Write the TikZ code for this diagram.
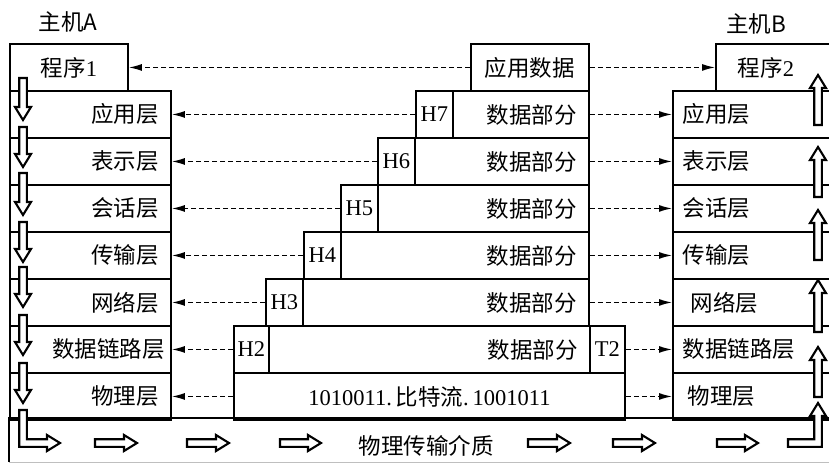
\documentclass[tikz,border=0pt]{standalone}
\usepackage{fontspec}
\setmainfont{Liberation Serif}
\newfontfamily\cjk{Noto Sans CJK SC}
\usetikzlibrary{arrows.meta}
\newcommand\zh[1]{{\cjk #1}}
\newcommand\dnarr[3]{\draw[hol] ({#1-3.8},#2) -- ({#1+3.8},#2) -- ({#1+3.8},{#3-13}) -- ({#1+8},{#3-13}) -- (#1,#3) -- ({#1-8},{#3-13}) -- ({#1-3.8},{#3-13}) -- cycle;}
\newcommand\uparr[3]{\draw[hol] ({#1-3.8},#2) -- ({#1+3.8},#2) -- ({#1+3.8},{#3+13}) -- ({#1+8},{#3+13}) -- (#1,#3) -- ({#1-8},{#3+13}) -- ({#1-3.8},{#3+13}) -- cycle;}
\newcommand\rtarr[3]{\draw[hol] (#1,{#3-3.8}) -- ({#2-13},{#3-3.8}) -- ({#2-13},{#3-8}) -- (#2,#3) -- ({#2-13},{#3+8}) -- ({#2-13},{#3+3.8}) -- (#1,{#3+3.8}) -- cycle;}
\begin{document}
\begin{tikzpicture}[x=1pt,y=-1pt,
  every node/.style={font=\fontsize{22.5}{26}\selectfont, inner sep=0pt},
  blk/.style={draw, line width=1.9pt, anchor=north west, minimum height=47pt},
  aly/.style={blk, minimum width=161pt, text width=137pt, inner xsep=12pt, align=right},
  bly/.style={blk, minimum width=188pt, text width=168pt, inner xsep=10pt, align=left},
  hd/.style={blk, minimum width=37pt},
  dt/.style={blk, inner xsep=12pt, align=right},
  dsh/.style={dash pattern=on 5pt off 3pt, line width=1.3pt, -{Latex[length=13pt,width=7pt]}},
  hol/.style={draw, line width=2.1pt, fill=white, line join=miter}]
\useasboundingbox (0,0) rectangle (829,464);
\clip (0,0) rectangle (829,464);

% titles
\node (ta) at (68,22) {\zh{主机A}};
\node (tb) at (756,24) {\zh{主机B}};

% host A
\node[blk, minimum width=118pt] (p1) at (9,43) {\zh{程序}1};
\node[aly] (a1) at (9,90)  {\zh{应用层}};
\node[aly] (a2) at (9,137) {\zh{表示层}};
\node[aly] (a3) at (9,184) {\zh{会话层}};
\node[aly] (a4) at (9,231) {\zh{传输层}};
\node[aly] (a5) at (9,278) {\zh{网络层}};
\node[aly, inner xsep=6pt, text width=149pt] (a6) at (9,325) {\zh{数据链路层}};
\node[aly] (a7) at (9,372) {\zh{物理层}};

% host B
\node[blk, minimum width=150pt, text width=106pt, inner xsep=22pt, align=left] (p2) at (715,43) {\zh{程序}2};
\node[bly] (b1) at (672,90)  {\zh{应用层}};
\node[bly] (b2) at (672,137) {\zh{表示层}};
\node[bly] (b3) at (672,184) {\zh{会话层}};
\node[bly] (b4) at (672,231) {\zh{传输层}};
\node[bly, text width=160pt, inner xsep=18pt] (b5) at (672,278) {\zh{网络层}};
\node[bly] (b6) at (672,325) {\zh{数据链路层}};
\node[bly, text width=162pt, inner xsep=15pt] (b7) at (672,372) {\zh{物理层}};

% medium
\node[anchor=north west, minimum width=851pt, minimum height=44pt] (med) at (9,418) {};
\draw[line width=1.9pt] (med.north east) -- (med.north west) -- (med.south west);
\draw[line width=1pt, gray!50] (med.south west) -- (med.south east);
\node (medt) at (426,446) {\zh{物理传输介质}};

% centre PDUs
\node[blk, minimum width=118pt] (app) at (470,43) {\zh{应用数据}};
\node[hd] (h7) at (415,90) {H7};
\node[dt, minimum width=136pt, text width=112pt] (d7) at (452,90) {\zh{数据部分}};
\node[hd] (h6) at (377,137) {H6};
\node[dt, minimum width=174pt, text width=150pt] (d6) at (414,137) {\zh{数据部分}};
\node[hd] (h5) at (340,184) {H5};
\node[dt, minimum width=211pt, text width=187pt] (d5) at (377,184) {\zh{数据部分}};
\node[hd] (h4) at (303,231) {H4};
\node[dt, minimum width=248pt, text width=224pt] (d4) at (340,231) {\zh{数据部分}};
\node[hd] (h3) at (265,278) {H3};
\node[dt, minimum width=286pt, text width=262pt] (d3) at (302,278) {\zh{数据部分}};
\node[hd, minimum width=35pt] (h2) at (233,325) {H2};
\node[dt, minimum width=321pt, text width=297pt] (d2) at (268,325) {\zh{数据部分}};
\node[hd, minimum width=35pt] (t2) at (589,325) {T2};
\node[blk, minimum width=391pt] (bits) at (233,372) {1010011.\,\zh{比特流}.\,1001011};

% dashed peer arrows
\draw[dsh] (app.west) -- (p1.east);
\draw[dsh] (app.east) -- (p2.west);
\draw[dsh] (h7.west) -- (a1.east);
\draw[dsh] (d7.east) -- (b1.west);
\draw[dsh] (h6.west) -- (a2.east);
\draw[dsh] (d6.east) -- (b2.west);
\draw[dsh] (h5.west) -- (a3.east);
\draw[dsh] (d5.east) -- (b3.west);
\draw[dsh] (h4.west) -- (a4.east);
\draw[dsh] (d4.east) -- (b4.west);
\draw[dsh] (h3.west) -- (a5.east);
\draw[dsh] (d3.east) -- (b5.west);
\draw[dsh] (h2.west) -- (a6.east);
\draw[dsh] (t2.east) -- (b6.west);
\draw[dsh] (bits.west) -- (a7.east);
\draw[dsh] (bits.east) -- (b7.west);

% hollow flow arrows, host A
\dnarr{23}{78}{120}
\dnarr{23}{127}{167}
\dnarr{23}{173}{215}
\dnarr{23}{222}{262}
\dnarr{23}{267}{307}
\dnarr{23}{315}{355}
\dnarr{23}{363}{403}
\draw[hol] (19.2,410) -- (26.8,410) -- (26.8,439.2) -- (47,439.2) -- (47,435) -- (60,443) -- (47,451) -- (47,446.8) -- (19.2,446.8) -- cycle;

% medium arrows
\rtarr{95}{137}{443}
\rtarr{187}{229}{443}
\rtarr{280}{321}{443}
\rtarr{528}{570}{443}
\rtarr{613}{655}{443}
\rtarr{717}{758}{443}

% host B arrows
\draw[hol] (788,439.2) -- (814.2,439.2) -- (814.2,416) -- (810,416) -- (818,403) -- (826,416) -- (821.8,416) -- (821.8,446.8) -- (788,446.8) -- cycle;
\uparr{818}{397}{347}
\uparr{818}{332}{280}
\uparr{818}{260}{210}
\uparr{818}{197}{147}
\uparr{818}{125}{75}
\end{tikzpicture}
\end{document}
